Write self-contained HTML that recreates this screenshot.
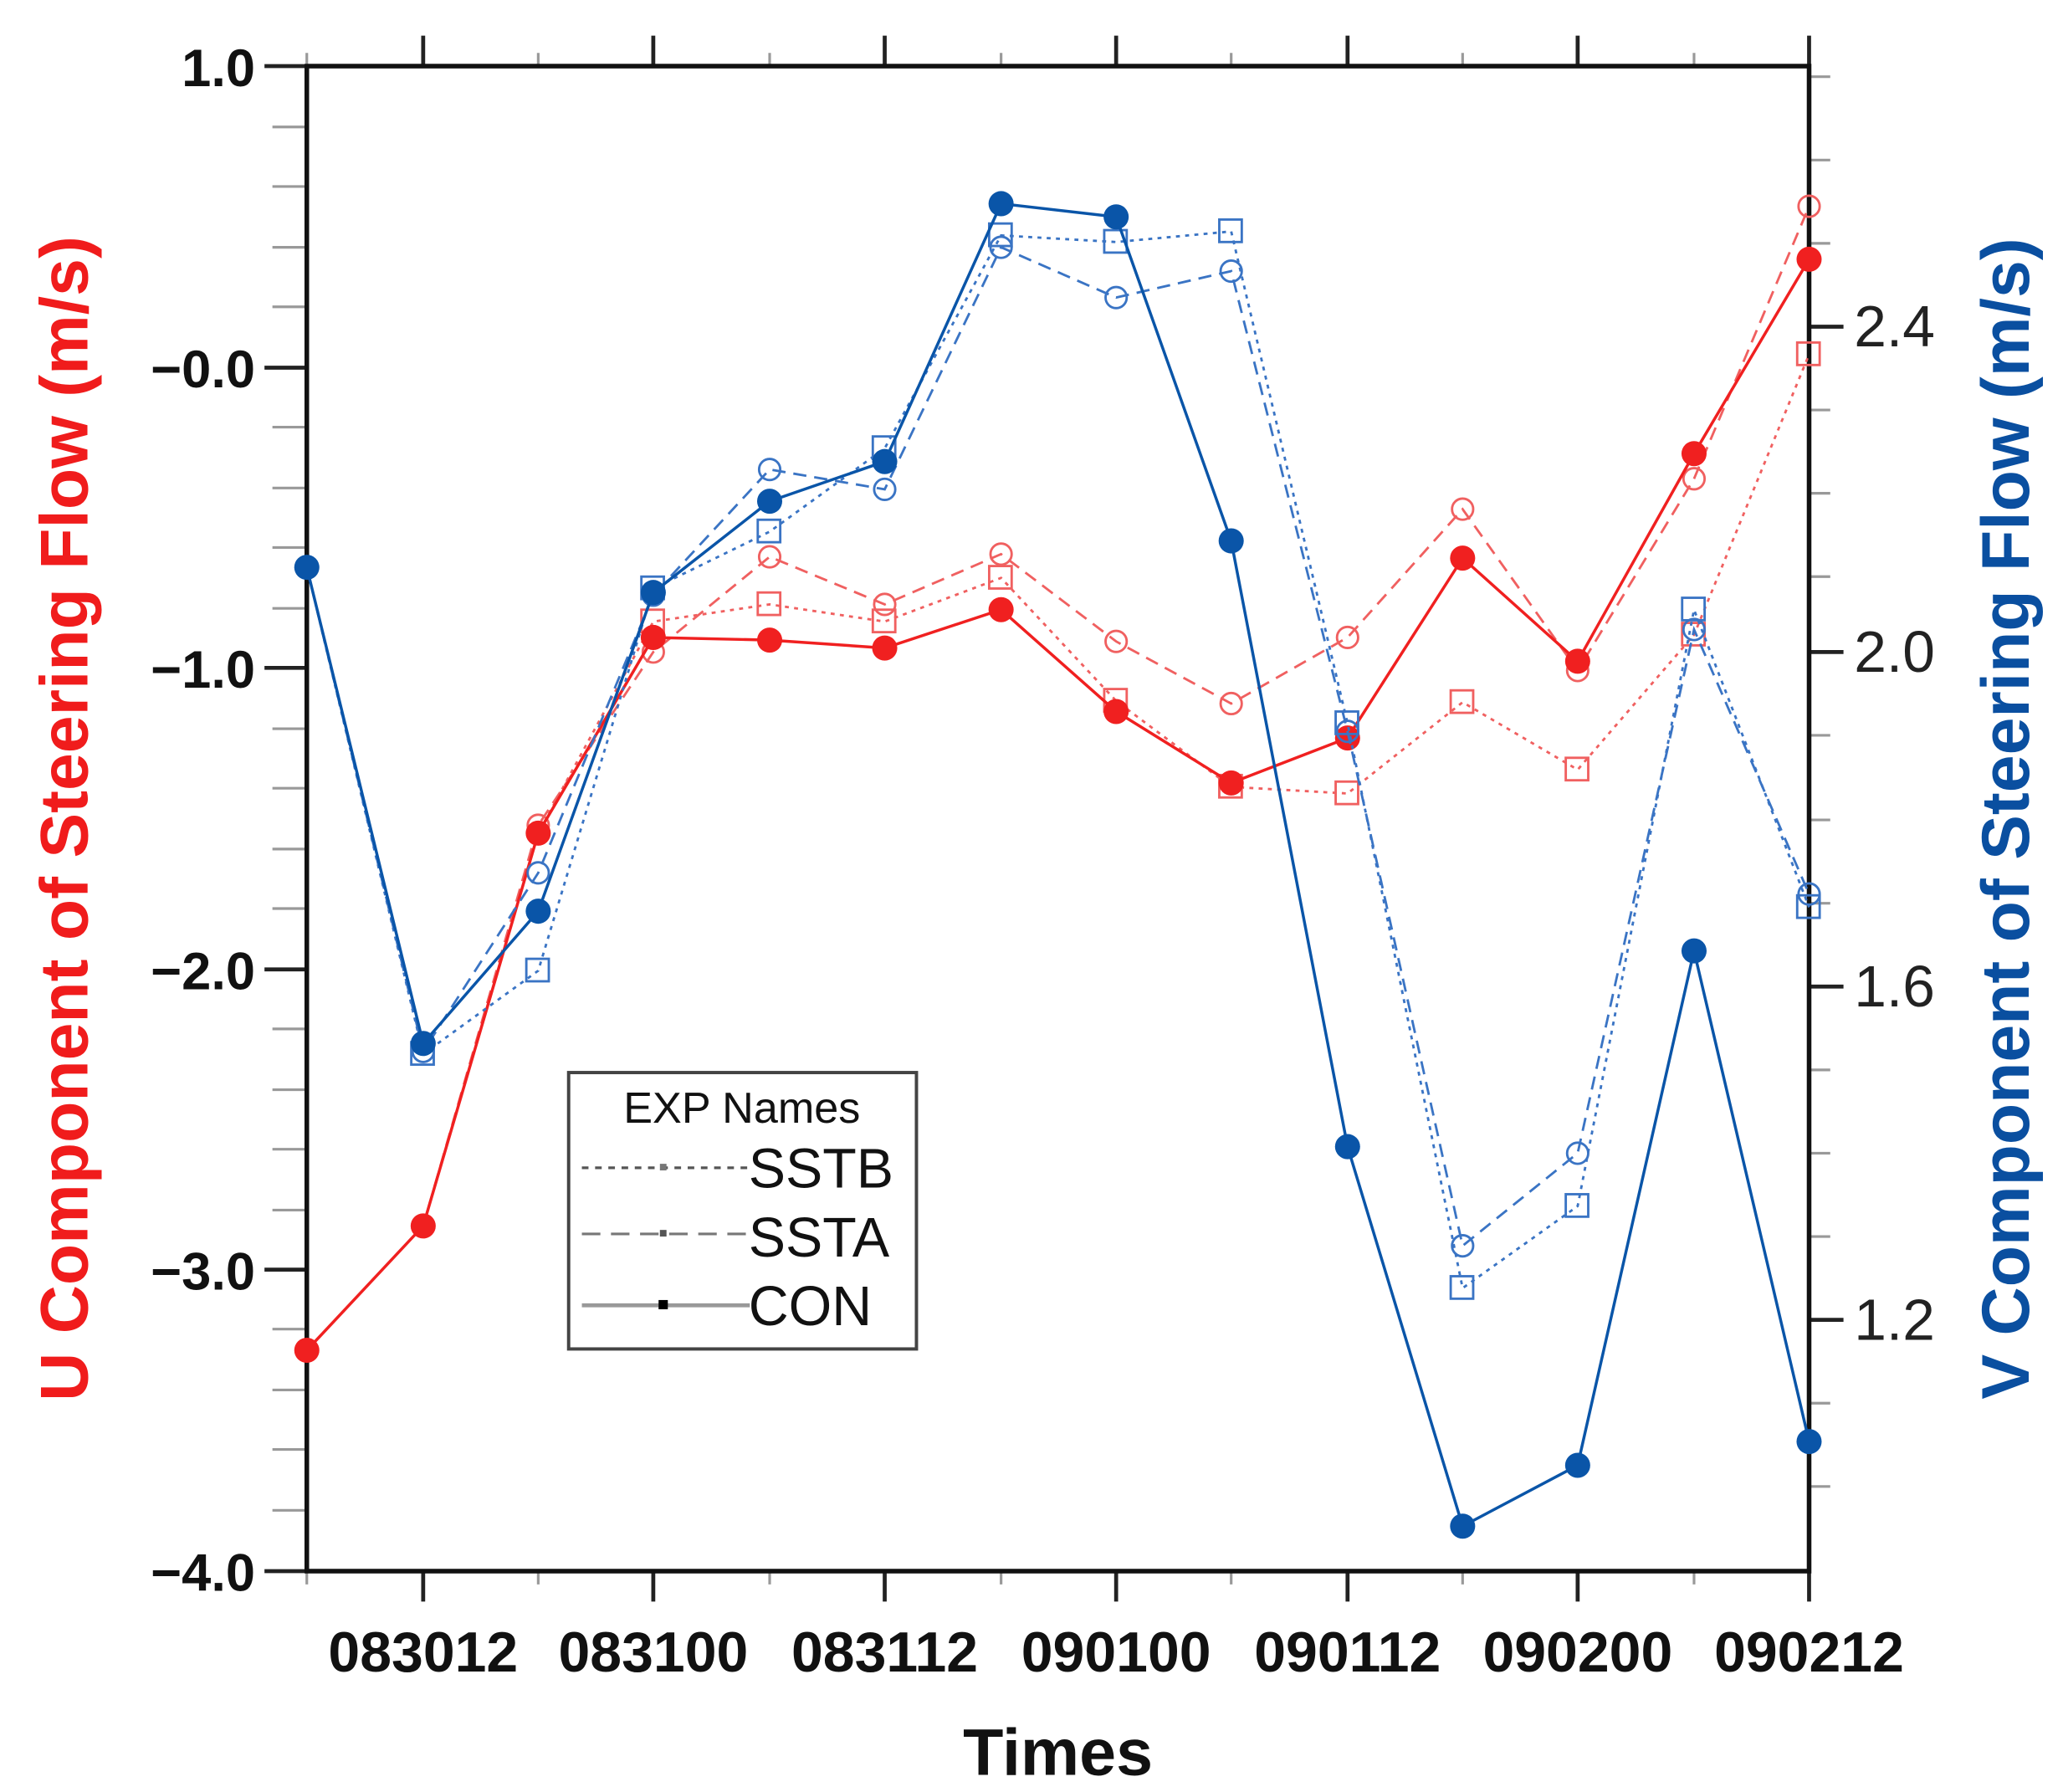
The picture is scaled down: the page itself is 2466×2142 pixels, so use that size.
<!DOCTYPE html>
<html><head><meta charset="utf-8"><style>
html,body{margin:0;padding:0;background:#fff}
svg{display:block}
text{font-family:"Liberation Sans",Arial,sans-serif}
</style></head><body>
<svg width="2466" height="2142" viewBox="0 0 1560 1355" preserveAspectRatio="none" xmlns="http://www.w3.org/2000/svg">
<rect width="1560" height="1355" fill="#fff"/>
<g stroke="#999" stroke-width="2">
<path d="M206 96H232M206 141H232M206 187H232M206 232H232
M206 323H232M206 369H232M206 414H232M206 460H232
M206 551H232M206 596H232M206 642H232M206 687H232
M206 778H232M206 824H232M206 869H232M206 915H232
M206 1005H232M206 1051H232M206 1096H232M206 1142H232"/>
<path d="M1368 58H1384M1368 121H1384M1368 184H1384M1368 310H1384M1368 373H1384M1368 436H1384M1368 556H1384M1368 620H1384M1368 683H1384M1368 809H1384M1368 872H1384M1368 935H1384M1368 1061H1384M1368 1124H1384"/>
<path d="M232 40V50M407 40V50M582 40V50M757 40V50M931 40V50M1106 40V50M1281 40V50
M232 1188V1198M407 1188V1198M582 1188V1198M757 1188V1198M931 1188V1198M1106 1188V1198M1281 1188V1198"/>
</g>
<g stroke="#222" stroke-width="3">
<path d="M200 50H232M200 278H232M200 505H232M200 733H232M200 960H232M200 1188H232"/>
<path d="M1368 247H1394M1368 493H1394M1368 746H1394M1368 998H1394"/>
<path d="M320 27V50M494 27V50M669 27V50M844 27V50M1019 27V50M1193 27V50M1368 27V50
M320 1188V1211M494 1188V1211M669 1188V1211M844 1188V1211M1019 1188V1211M1193 1188V1211M1368 1188V1211"/>
</g>
<rect x="232" y="50" width="1136" height="1138" fill="none" stroke="#111" stroke-width="3.5"/>
<g font-size="40" font-weight="bold" text-anchor="end" fill="#111">
<text x="193" y="65">1.0</text><text x="193" y="293">−0.0</text><text x="193" y="520">−1.0</text>
<text x="193" y="748">−2.0</text><text x="193" y="975">−3.0</text><text x="193" y="1203">−4.0</text>
</g>
<g font-size="44" fill="#222">
<text x="1402" y="262">2.4</text><text x="1402" y="508">2.0</text><text x="1402" y="761">1.6</text><text x="1402" y="1013">1.2</text>
</g>
<g font-size="43" font-weight="bold" text-anchor="middle" fill="#111">
<text x="320" y="1264">083012</text><text x="494" y="1264">083100</text><text x="669" y="1264">083112</text>
<text x="844" y="1264">090100</text><text x="1019" y="1264">090112</text><text x="1193" y="1264">090200</text><text x="1368" y="1264">090212</text>
<text x="800" y="1342" font-size="50">Times</text>
</g>
<text transform="translate(66 619) rotate(-90)" text-anchor="middle" font-size="51" font-weight="bold" fill="#f01c1c">U Component of Steering Flow (m/s)</text>
<text transform="translate(1534 619) rotate(-90)" text-anchor="middle" font-size="51" font-weight="bold" fill="#0a4fa0">V Component of Steering Flow (m/s)</text>

<g fill="none" stroke="#f06060" stroke-width="1.8">
<polyline stroke-dasharray="3 4" points="232,1021 320,927 407,630 494,470 582,457 669,470 757,437 844,530 931,595 1019,600 1106,531 1193,582 1281,480 1368,268"/>
<polyline stroke-dasharray="10 6" points="232,1021 320,927 407,624 494,493 582,421 669,457 757,419 844,485 931,532 1019,482 1106,385 1193,507 1281,362 1368,156"/>
<g stroke-width="1.8">
<rect x="485" y="461" width="17" height="17"/><rect x="573" y="448" width="17" height="17"/><rect x="660" y="461" width="17" height="17"/><rect x="748" y="428" width="17" height="17"/><rect x="835" y="521" width="17" height="17"/><rect x="922" y="586" width="17" height="17"/><rect x="1010" y="591" width="17" height="17"/><rect x="1097" y="522" width="17" height="17"/><rect x="1184" y="573" width="17" height="17"/><rect x="1272" y="471" width="17" height="17"/><rect x="1359" y="259" width="17" height="17"/>
<circle cx="407" cy="624" r="8"/><circle cx="494" cy="493" r="8"/><circle cx="582" cy="421" r="8"/><circle cx="669" cy="457" r="8"/><circle cx="757" cy="419" r="8"/><circle cx="844" cy="485" r="8"/><circle cx="931" cy="532" r="8"/><circle cx="1019" cy="482" r="8"/><circle cx="1106" cy="385" r="8"/><circle cx="1193" cy="507" r="8"/><circle cx="1281" cy="362" r="8"/><circle cx="1368" cy="156" r="8"/>
</g></g>
<polyline fill="none" stroke="#f02020" stroke-width="2.2" points="232,1021 320,927 407,630 494,482 582,484 669,490 757,461 844,538 931,592 1019,558 1106,422 1193,500 1281,343 1368,196"/>
<g fill="#f02020">
<circle cx="232" cy="1021" r="9.5"/><circle cx="320" cy="927" r="9.5"/><circle cx="407" cy="630" r="9.5"/><circle cx="494" cy="482" r="9.5"/><circle cx="582" cy="484" r="9.5"/><circle cx="669" cy="490" r="9.5"/><circle cx="757" cy="461" r="9.5"/><circle cx="844" cy="538" r="9.5"/><circle cx="931" cy="592" r="9.5"/><circle cx="1019" cy="558" r="9.5"/><circle cx="1106" cy="422" r="9.5"/><circle cx="1193" cy="500" r="9.5"/><circle cx="1281" cy="343" r="9.5"/><circle cx="1368" cy="196" r="9.5"/>
</g>
<g fill="none" stroke="#3a74c4" stroke-width="1.8">
<polyline stroke-dasharray="3 4" points="232,429 320,797 407,734 494,445 582,402 669,339 757,178 844,183 931,175 1019,547 1106,974 1193,912 1281,461 1368,686"/>
<polyline stroke-dasharray="10 6" points="232,429 320,795 407,660 494,450 582,355 669,370 757,187 844,225 931,205 1019,553 1106,942 1193,872 1281,476 1368,676"/>
<g stroke-width="1.8">
<rect x="311" y="788" width="17" height="17"/><rect x="398" y="725" width="17" height="17"/><rect x="485" y="436" width="17" height="17"/><rect x="573" y="393" width="17" height="17"/><rect x="660" y="330" width="17" height="17"/><rect x="748" y="169" width="17" height="17"/><rect x="835" y="174" width="17" height="17"/><rect x="922" y="166" width="17" height="17"/><rect x="1010" y="538" width="17" height="17"/><rect x="1097" y="965" width="17" height="17"/><rect x="1184" y="903" width="17" height="17"/><rect x="1272" y="452" width="17" height="17"/><rect x="1359" y="677" width="17" height="17"/>
<circle cx="320" cy="795" r="8"/><circle cx="407" cy="660" r="8"/><circle cx="494" cy="450" r="8"/><circle cx="582" cy="355" r="8"/><circle cx="669" cy="370" r="8"/><circle cx="757" cy="187" r="8"/><circle cx="844" cy="225" r="8"/><circle cx="931" cy="205" r="8"/><circle cx="1019" cy="553" r="8"/><circle cx="1106" cy="942" r="8"/><circle cx="1193" cy="872" r="8"/><circle cx="1281" cy="476" r="8"/><circle cx="1368" cy="676" r="8"/>
</g></g>
<polyline fill="none" stroke="#0a55a8" stroke-width="2.2" points="232,429 320,789 407,689 494,448 582,379 669,349 757,154 844,164 931,409 1019,867 1106,1154 1193,1108 1281,719 1368,1090"/>
<g fill="#0a55a8">
<circle cx="232" cy="429" r="9.5"/><circle cx="320" cy="789" r="9.5"/><circle cx="407" cy="689" r="9.5"/><circle cx="494" cy="448" r="9.5"/><circle cx="582" cy="379" r="9.5"/><circle cx="669" cy="349" r="9.5"/><circle cx="757" cy="154" r="9.5"/><circle cx="844" cy="164" r="9.5"/><circle cx="931" cy="409" r="9.5"/><circle cx="1019" cy="867" r="9.5"/><circle cx="1106" cy="1154" r="9.5"/><circle cx="1193" cy="1108" r="9.5"/><circle cx="1281" cy="719" r="9.5"/><circle cx="1368" cy="1090" r="9.5"/>
</g>
<rect x="430" y="811" width="263" height="209" fill="#fff" stroke="#444" stroke-width="2.5"/>
<g font-size="33" fill="#111"><text x="561" y="849" text-anchor="middle">EXP Names</text></g>
<g font-size="42" fill="#111">
<text x="566" y="898">SSTB</text><text x="566" y="950">SSTA</text><text x="566" y="1002">CON</text>
</g>
<g stroke="#555" stroke-width="2">
<path d="M440 883H565" stroke-dasharray="5 5"/>
<path d="M440 933H567" stroke-dasharray="14 8" stroke="#777"/>
<path d="M440 987H567" stroke="#999" stroke-width="3"/>
</g>
<rect x="499" y="880" width="5" height="5" fill="#777"/>
<rect x="499" y="930" width="5" height="5" fill="#555"/>
<rect x="498" y="983" width="7" height="7" fill="#000"/>
</svg>
</body></html>
